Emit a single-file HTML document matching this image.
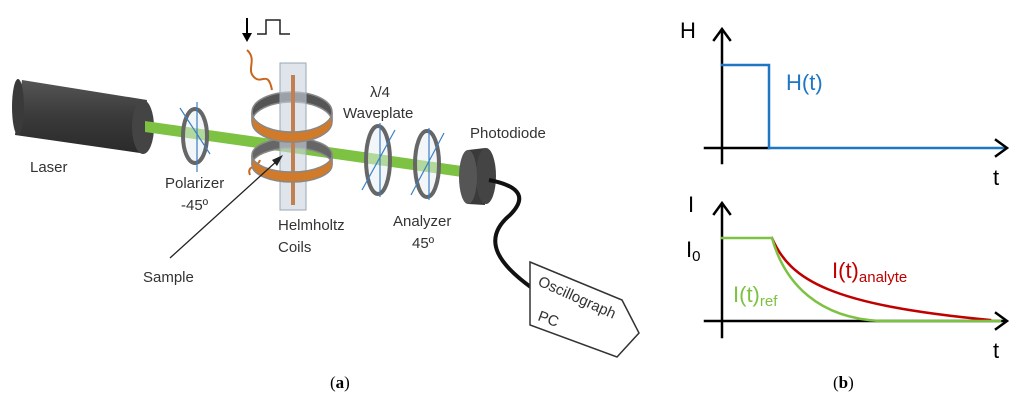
<!DOCTYPE html>
<html><head><meta charset="utf-8"><style>
body{margin:0;background:#fff}
svg{display:block;font-family:"Liberation Sans",sans-serif}
</style></head><body>
<svg width="1024" height="400" viewBox="0 0 1024 400">
<defs>
<linearGradient id="lz" x1="0" y1="0" x2="0" y2="1"><stop offset="0" stop-color="#555"/><stop offset="0.5" stop-color="#3a3a3a"/><stop offset="1" stop-color="#2a2a2a"/></linearGradient>
</defs>
<!-- Laser -->
<path d="M22,80 L147,100 L140,153 L15,135 Z" fill="url(#lz)"/>
<ellipse cx="18" cy="107" rx="6" ry="28" fill="#3a3a3a"/>
<ellipse cx="143" cy="127" rx="11" ry="27" fill="#444"/>
<!-- beam -->
<path d="M145,121 L462,166 L462,177 L145,132 Z" fill="#7dc242"/>
<!-- polarizer -->
<ellipse cx="195" cy="136" rx="12" ry="27" fill="#e8eef3" fill-opacity="0.5" stroke="#666" stroke-width="4"/>
<line x1="197" y1="102" x2="197" y2="172" stroke="#3b7fc4" stroke-width="1.2"/>
<line x1="180" y1="108" x2="210" y2="154" stroke="#3b7fc4" stroke-width="1.2"/>
<!-- orange wire -->
<path d="M247,50 C258,60 245,70 255,78 C262,84 268,70 272,90" fill="none" stroke="#c8661e" stroke-width="2"/>
<path d="M250,175 C246,165 258,168 260,160" fill="none" stroke="#c8661e" stroke-width="2"/>
<!-- pulse -->
<line x1="247" y1="18" x2="247" y2="38" stroke="#000" stroke-width="2"/>
<path d="M242,33 L247,42 L252,33 Z" fill="#000"/>
<path d="M257,34 L266,34 L266,20 L280,20 L280,34 L290,34" fill="none" stroke="#222" stroke-width="1.5"/>
<!-- coils back bands -->
<path d="M252,112 A40,20 0 0 1 332,112 L332,122 A40,20 0 0 0 252,122 Z" fill="#555" stroke="#888" stroke-width="1.5"/>
<path d="M252,155 A40,17 0 0 1 332,155 L332,165 A40,17 0 0 0 252,165 Z" fill="#666" stroke="#888" stroke-width="1.5"/>
<!-- tube -->
<rect x="280" y="63" width="26" height="147" fill="#c9d4de" fill-opacity="0.6" stroke="#9aa8b4"/>
<line x1="293" y1="75" x2="293" y2="205" stroke="#c08050" stroke-width="4"/>
<!-- coils front bands -->
<path d="M252,112 A40,20 0 0 0 332,112 L332,122 A40,20 0 0 1 252,122 Z" fill="#d07a2a" stroke="#888" stroke-width="1.5"/>
<path d="M252,155 A40,17 0 0 0 332,155 L332,165 A40,17 0 0 1 252,165 Z" fill="#d07a2a" stroke="#888" stroke-width="1.5"/>
<!-- waveplate -->
<ellipse cx="378" cy="160" rx="12" ry="34" fill="#e8eef3" fill-opacity="0.5" stroke="#666" stroke-width="4"/>
<line x1="380" y1="123" x2="380" y2="197" stroke="#3b7fc4" stroke-width="1.2"/>
<line x1="362" y1="190" x2="395" y2="130" stroke="#3b7fc4" stroke-width="1.2"/>
<!-- analyzer -->
<ellipse cx="427" cy="164" rx="12" ry="33" fill="#e8eef3" fill-opacity="0.5" stroke="#666" stroke-width="4"/>
<line x1="429" y1="128" x2="429" y2="200" stroke="#3b7fc4" stroke-width="1.2"/>
<line x1="411" y1="195" x2="444" y2="133" stroke="#3b7fc4" stroke-width="1.2"/>
<!-- photodiode -->
<path d="M468,150 L485,148 L485,205 L468,204 Z" fill="#3a3a3a"/>
<ellipse cx="486" cy="176" rx="10" ry="28" fill="#444"/>
<ellipse cx="468" cy="177" rx="9" ry="27" fill="#555"/>
<!-- cable -->
<path d="M489,180 C515,185 530,195 510,215 C480,240 500,265 532,288" fill="none" stroke="#111" stroke-width="4"/>
<!-- Sample arrow -->
<line x1="170" y1="258" x2="278" y2="160" stroke="#222" stroke-width="1.3"/>
<path d="M283,155 L272,160 L277,166 Z" fill="#222"/>
<!-- Oscillograph box -->
<path d="M530,262 L622,300 L639,333 L617,357 L530,325 Z" fill="#fff" stroke="#333" stroke-width="1.5"/>
<text x="537" y="285" font-size="15" fill="#333" transform="rotate(24 537 285)">Oscillograph</text>
<text x="537" y="320" font-size="15" fill="#333" transform="rotate(20 537 320)">PC</text>
<!-- labels -->
<g font-size="15" fill="#333">
<text x="30" y="172">Laser</text>
<text x="165" y="188">Polarizer</text>
<text x="181" y="210">-45º</text>
<text x="278" y="230">Helmholtz</text>
<text x="278" y="252">Coils</text>
<text x="370" y="97">λ/4</text>
<text x="343" y="118">Waveplate</text>
<text x="470" y="138">Photodiode</text>
<text x="393" y="226">Analyzer</text>
<text x="412" y="248">45º</text>
<text x="143" y="282">Sample</text>
</g>
<text x="330" y="388" font-family="Liberation Serif" font-size="17">(<tspan font-weight="bold">a</tspan>)</text>
<!-- right panel -->
<g stroke-linecap="square">
<line x1="722" y1="30" x2="722" y2="163" stroke="#000" stroke-width="2.5"/>
<path d="M714,40 L722,29 L730,40" fill="none" stroke="#000" stroke-width="2.5"/>
<line x1="705" y1="148" x2="769" y2="148" stroke="#000" stroke-width="2.5"/>
<path d="M722,65 L769,65 L769,148 L1005,148" fill="none" stroke="#1f77c4" stroke-width="2.5"/>
<path d="M996,140 L1007,148 L996,156" fill="none" stroke="#000" stroke-width="2.5"/>
<line x1="722" y1="204" x2="722" y2="337" stroke="#000" stroke-width="2.5"/>
<path d="M714,214 L722,203 L730,214" fill="none" stroke="#000" stroke-width="2.5"/>
<line x1="705" y1="321" x2="1005" y2="321" stroke="#000" stroke-width="2.5"/>
<path d="M996,313 L1007,321 L996,329" fill="none" stroke="#000" stroke-width="2.5"/>
<path d="M772,238 C790,280 830,305 990,320" fill="none" stroke="#c00000" stroke-width="2.5"/>
<path d="M722,238 L772,238 C785,285 820,318 880,321 L1000,321" fill="none" stroke="#7dc242" stroke-width="2.5"/>
</g>
<g font-size="22">
<text x="680" y="38">H</text>
<text x="786" y="90" fill="#1f77c4">H(t)</text>
<text x="993" y="185">t</text>
<text x="688" y="212">I</text>
<text x="686" y="257">I<tspan font-size="15" dy="4">0</tspan></text>
<text x="832" y="278" fill="#c00000">I(t)<tspan font-size="15" dy="4">analyte</tspan></text>
<text x="733" y="302" fill="#7dc242">I(t)<tspan font-size="15" dy="4">ref</tspan></text>
<text x="993" y="358">t</text>
</g>
<text x="833" y="388" font-family="Liberation Serif" font-size="17">(<tspan font-weight="bold">b</tspan>)</text>
</svg>
</body></html>
